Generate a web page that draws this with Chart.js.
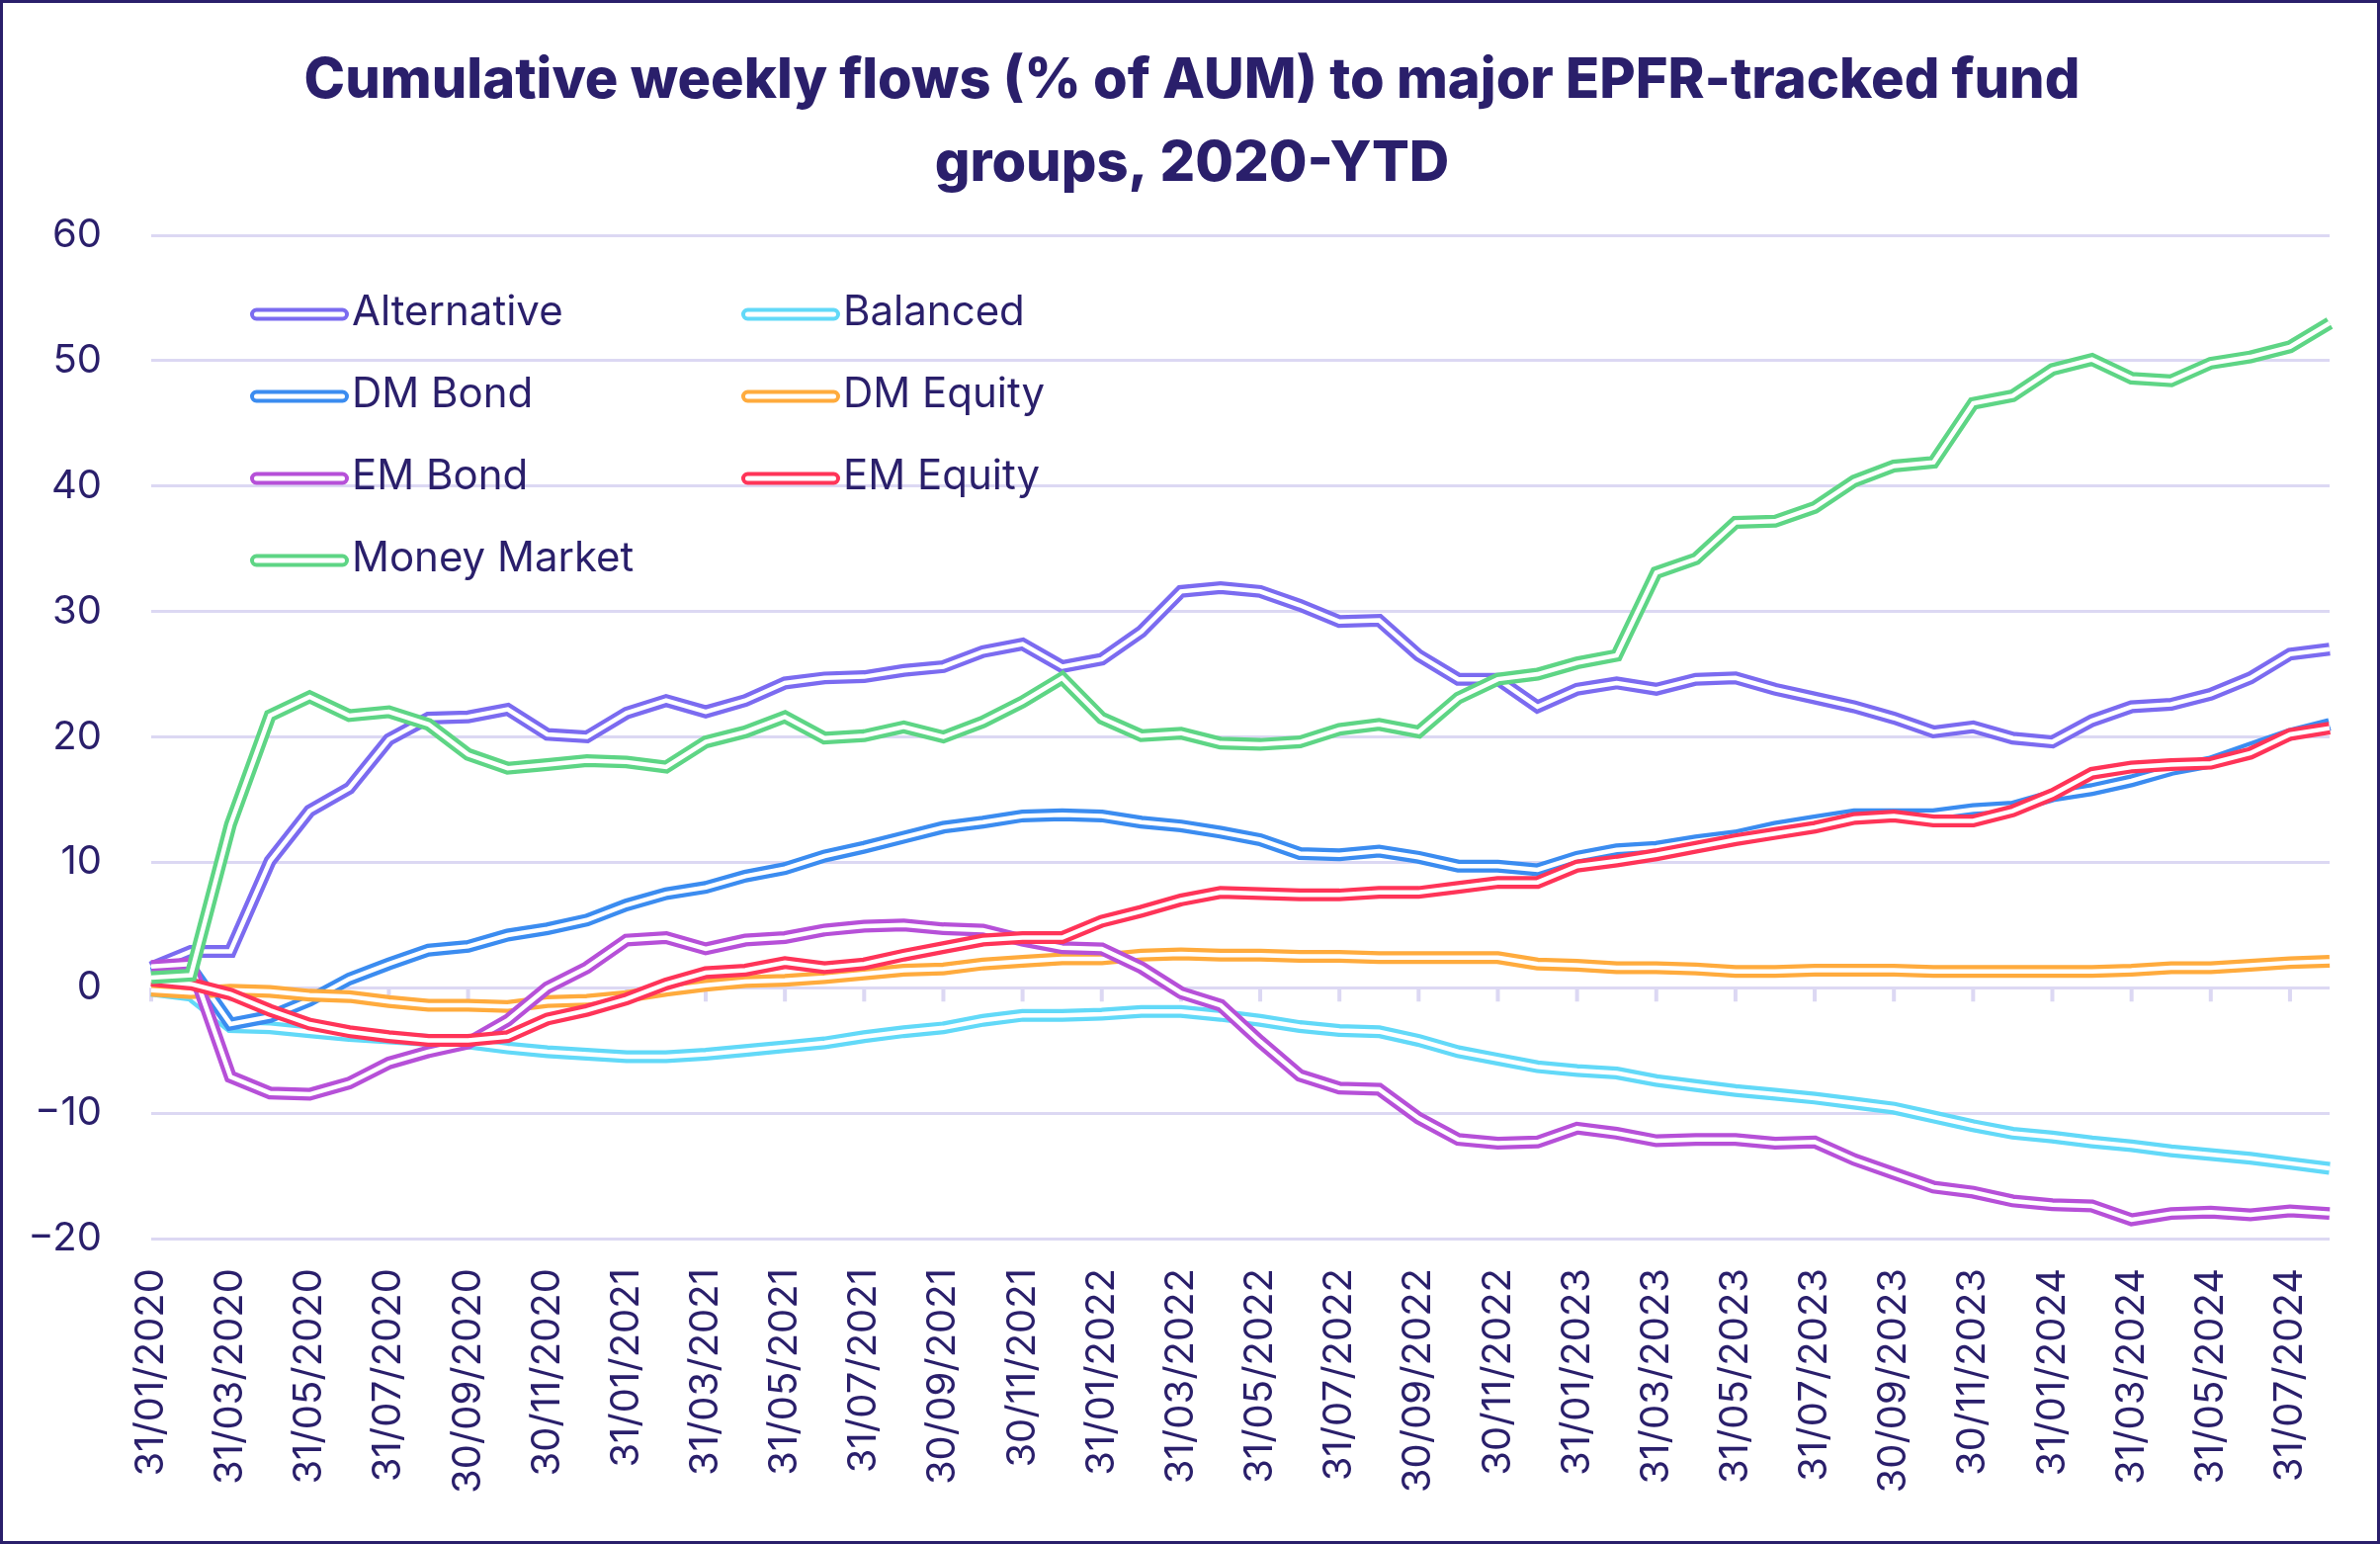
<!DOCTYPE html>
<html><head><meta charset="utf-8">
<script src="https://cdn.jsdelivr.net/npm/chart.js@4.4.0/dist/chart.umd.min.js"></script>
<style>html,body{margin:0;padding:0;background:#fff;}canvas{display:block;}</style>
</head><body>
<canvas id="c" width="2408" height="1562"></canvas>
<script>
const categories = [
 '31/01/2020','29/02/2020','31/03/2020','30/04/2020','31/05/2020','30/06/2020','31/07/2020','31/08/2020','30/09/2020','31/10/2020','30/11/2020','31/12/2020',
 '31/01/2021','28/02/2021','31/03/2021','30/04/2021','31/05/2021','30/06/2021','31/07/2021','31/08/2021','30/09/2021','31/10/2021','30/11/2021','31/12/2021',
 '31/01/2022','28/02/2022','31/03/2022','30/04/2022','31/05/2022','30/06/2022','31/07/2022','31/08/2022','30/09/2022','31/10/2022','30/11/2022','31/12/2022',
 '31/01/2023','28/02/2023','31/03/2023','30/04/2023','31/05/2023','30/06/2023','31/07/2023','31/08/2023','30/09/2023','31/10/2023','30/11/2023','31/12/2023',
 '31/01/2024','29/02/2024','31/03/2024','30/04/2024','31/05/2024','30/06/2024','31/07/2024','31/08/2024'
];
const alternative = [1.6,2.9,2.9,10.1,14.1,15.9,19.8,21.5, 21.6,22.2,20.2,20.0,21.9,22.9,22.0,22.9, 24.3,24.7,24.8,25.3,25.6,26.8,27.4,25.6, 26.2,28.4,31.6,31.9,31.6,30.5,29.2,29.3, 26.5,24.6,24.6,22.4,23.8,24.3,23.8,24.6, 24.7,23.8,23.1,22.4,21.5,20.4,20.8,19.9, 19.6,21.3,22.4,22.6,23.4,24.7,26.6,27.0];
const balanced = [-0.2,-0.6,-3.1,-3.2,-3.5,-3.8,-4.0,-4.2, -4.4,-4.8,-5.1,-5.3,-5.5,-5.5,-5.3,-5.0, -4.7,-4.4,-3.9,-3.5,-3.2,-2.6,-2.2,-2.2, -2.1,-1.9,-1.9,-2.2,-2.6,-3.1,-3.4,-3.5, -4.2,-5.1,-5.7,-6.3,-6.6,-6.8,-7.4,-7.8, -8.2,-8.5,-8.8,-9.2,-9.6,-10.3,-11.0,-11.6, -11.9,-12.3,-12.6,-13.0,-13.3,-13.6,-14.0,-14.4];
const dmBond = [1.1,1.6,-2.9,-2.3,-1.0,0.7,1.9,3.0, 3.3,4.2,4.7,5.4,6.6,7.5,8.0,8.9, 9.5,10.5,11.2,12.0,12.8,13.2,13.7,13.8, 13.7,13.2,12.9,12.4,11.8,10.7,10.6,10.9, 10.4,9.7,9.7,9.4,10.4,11.0,11.2,11.7, 12.1,12.8,13.3,13.8,13.8,13.8,14.2,14.4, 15.3,15.8,16.5,17.4,18.0,19.1,20.2,21.0];
const dmEquity = [-0.2,-0.4,-0.2,-0.3,-0.6,-0.7,-1.1,-1.4, -1.4,-1.5,-1.1,-1.0,-0.7,-0.2,0.2,0.5, 0.6,0.8,1.1,1.4,1.5,1.9,2.1,2.3, 2.3,2.6,2.7,2.6,2.6,2.5,2.5,2.4, 2.4,2.4,2.4,1.9,1.8,1.6,1.6,1.5, 1.3,1.3,1.4,1.4,1.4,1.3,1.3,1.3, 1.3,1.3,1.4,1.6,1.6,1.8,2.0,2.1];
const emBond = [1.7,1.9,-7.1,-8.4,-8.5,-7.6,-6.0,-5.1, -4.4,-2.6,0.0,1.6,3.8,4.0,3.1,3.8, 4.0,4.6,4.9,5.0,4.7,4.6,3.8,3.2, 3.1,1.6,-0.4,-1.4,-4.3,-7.0,-8.0,-8.1, -10.4,-12.1,-12.4,-12.3,-11.2,-11.6,-12.2,-12.1, -12.1,-12.4,-12.3,-13.7,-14.8,-15.9,-16.3,-17.0, -17.3,-17.4,-18.5,-18.0,-17.9,-18.1,-17.8,-18.0];
const emEquity = [0.6,0.3,-0.5,-1.8,-2.9,-3.5,-3.9,-4.2, -4.2,-3.9,-2.5,-1.8,-0.9,0.3,1.2,1.4, 2.0,1.6,1.9,2.6,3.2,3.8,4.0,4.0, 5.3,6.1,7.0,7.6,7.5,7.4,7.4,7.6, 7.6,8.0,8.4,8.4,9.7,10.1,10.6,11.2, 11.8,12.3,12.8,13.5,13.7,13.3,13.3,14.1, 15.4,17.1,17.6,17.8,17.9,18.7,20.2,20.7];
const moneyMarket = [0.8,1.0,13.0,21.7,23.2,21.7,22.0,21.0, 18.6,17.5,17.8,18.1,18.0,17.6,19.6,20.4, 21.6,19.9,20.1,20.8,20.0,21.2,22.8,24.7, 21.5,20.1,20.3,19.5,19.4,19.6,20.6,21.0, 20.4,23.1,24.6,25.0,25.9,26.5,33.1,34.2, 37.1,37.2,38.3,40.4,41.6,41.9,46.6,47.2, 49.3,50.1,48.6,48.4,49.8,50.3,51.1,53.0];

const seriesNames = ['Alternative','Balanced','DM Bond','DM Equity','EM Bond','EM Equity','Money Market'];
const seriesData = [alternative, balanced, dmBond, dmEquity, emBond, emEquity, moneyMarket];
const seriesColors = ['#7b6bf0','#62d9f8','#3b8cf0','#ffab3d','#b650d8','#ff3458','#5ed585'];
const titleLines = ['Cumulative weekly flows (% of AUM) to major EPFR-tracked fund', 'groups, 2020-YTD'];

const NAVY = '#2a1f6b';
const GRID = '#dcd8f3';
const FONT = 'Inter, "Noto Sans", sans-serif';

const datasets = [];
seriesData.forEach((d, k) => {
  datasets.push({ label: seriesNames[k], data: d, borderColor: seriesColors[k], borderWidth: 13,
    pointRadius: 0, tension: 0, fill: false, order: 100 - 2*k, borderJoinStyle: 'miter' });
  datasets.push({ label: seriesNames[k] + '_inner', data: d, borderColor: '#ffffff', borderWidth: 4.5,
    pointRadius: 0, tension: 0, fill: false, order: 99 - 2*k, borderJoinStyle: 'miter' });
});

const decor = {
  id: 'decor',
  beforeDatasetsDraw(chart) {
    const ctx = chart.ctx, xs = chart.scales.x, ys = chart.scales.y;
    const y0 = ys.getPixelForValue(0);
    ctx.save();
    ctx.fillStyle = GRID;
    for (let i = 0; i < categories.length; i += 2) {
      const x = xs.getPixelForValue(i);
      ctx.fillRect(x - 2, y0, 4, 14);
    }
    ctx.restore();
  },
  afterDraw(chart) {
    const ctx = chart.ctx;
    ctx.save();
    ctx.fillStyle = NAVY;
    ctx.textAlign = 'center';
    ctx.textBaseline = 'alphabetic';
    ctx.font = '800 56px ' + FONT;
    ctx.fillText(titleLines[0], 1206, 99);
    ctx.fillText(titleLines[1], 1206, 183);
    const cols = [253, 750];
    ctx.textAlign = 'left';
    ctx.font = '400 42px ' + FONT;
    seriesNames.forEach((name, k) => {
      const col = k % 2, row = Math.floor(k / 2);
      const x = cols[col], y = 318 + row * 83;
      ctx.beginPath();
      ctx.roundRect(x + 2, y - 4.5, 96, 9, 4.5);
      ctx.fillStyle = '#ffffff';
      ctx.fill();
      ctx.lineWidth = 4;
      ctx.strokeStyle = seriesColors[k];
      ctx.stroke();
      ctx.fillStyle = NAVY;
      ctx.fillText(name, x + 103, y + 11);
    });
    ctx.lineWidth = 3;
    ctx.strokeStyle = NAVY;
    ctx.strokeRect(1.5, 1.5, chart.width - 3, chart.height - 3);
    ctx.restore();
  }
};

new Chart(document.getElementById('c'), {
  type: 'line',
  data: { labels: categories, datasets },
  plugins: [decor],
  options: {
    responsive: false,
    animation: false,
    devicePixelRatio: 1,
    layout: { padding: { top: 238, right: 51, left: 0, bottom: 0 } },
    plugins: { legend: { display: false }, tooltip: { enabled: false }, title: { display: false } },
    scales: {
      x: {
        grid: { display: false, drawTicks: false },
        border: { display: false },
        ticks: {
          autoSkip: false, maxRotation: 90, minRotation: 90, padding: 30,
          color: NAVY, font: { family: FONT, size: 40 },
          callback: function (v, i) { return i % 2 === 0 ? this.getLabelForValue(v) : null; }
        },
        afterFit: s => { s.height = 309; }
      },
      y: {
        min: -20, max: 60,
        grid: { color: GRID, lineWidth: 3, drawTicks: false },
        border: { display: false },
        ticks: {
          stepSize: 10, padding: 50, color: NAVY, font: { family: FONT, size: 40 },
          callback: v => String(v).replace('-', '\u2212')
        },
        afterFit: s => { s.width = 153; }
      }
    }
  }
});
</script>
</body></html>
